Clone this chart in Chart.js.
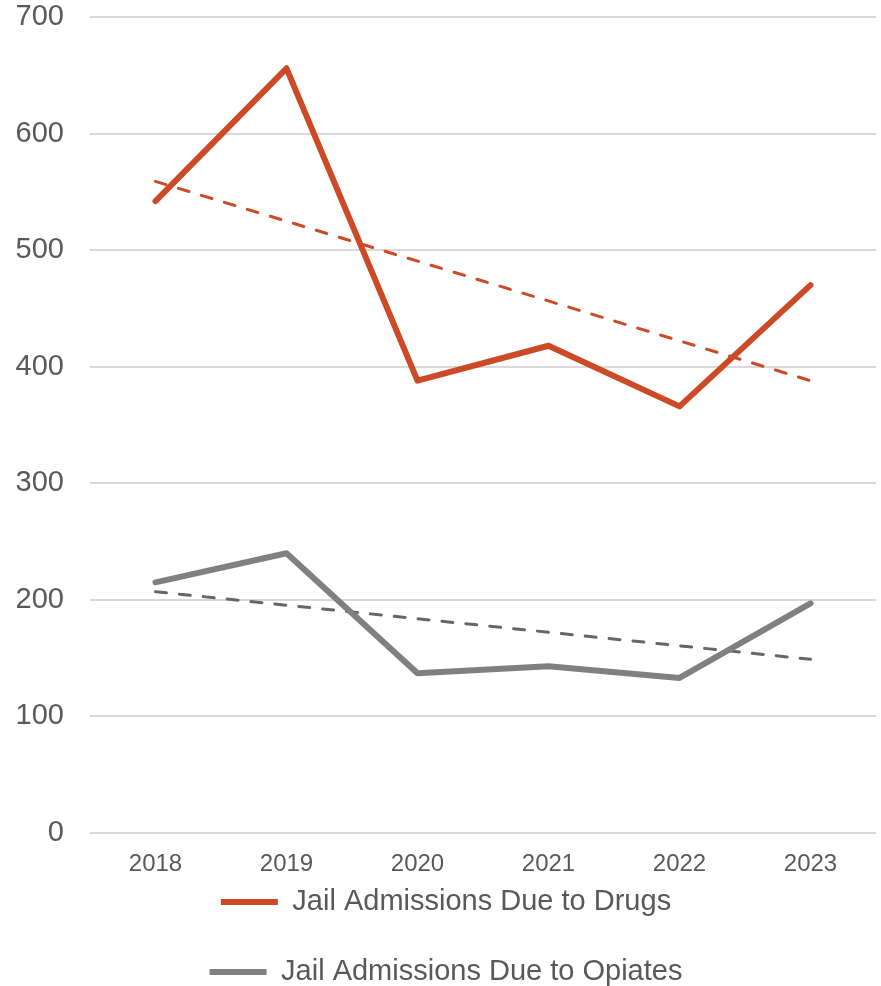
<!DOCTYPE html>
<html lang="en">
<head>
    <meta charset="UTF-8">
    <title>Jail Admissions</title>
    <script src="https://cdn.jsdelivr.net/npm/chart.js"></script>
    <style>
        body { margin: 0; background: #fff; }
        #chart-container { width: 881px; height: 986px; }
    </style>
</head>
<body>
    <div id="chart-container">
        <canvas id="chart"></canvas>
    </div>

    <script>
        // Data
        const years = ["2018", "2019", "2020", "2021", "2022", "2023"];
        const drugs = [542, 656, 388, 418, 366, 470];
        const opiates = [215, 240, 137, 143, 133, 197];
        // Trend lines: only the end points, the line is drawn between them
        const drugsTrend = [559, null, null, null, null, 388];
        const opiatesTrend = [207, null, null, null, null, 149];
        const yTicks = [0, 100, 200, 300, 400, 500, 600, 700];

        const red = "#CD4A27";
        const gray = "#808080";
        const textGray = "#595959";
        const fontFamily = "Liberation Sans, Arial";

        const ctx = document.getElementById("chart").getContext("2d");
        new Chart(ctx, {
            type: "line",
            data: {
                labels: years,
                datasets: [
                    {
                        label: "Jail Admissions Due to Drugs",
                        data: drugs,
                        borderColor: red,
                        backgroundColor: red,
                        borderWidth: 6,
                        pointRadius: 0,
                        borderCapStyle: "round",
                        borderJoinStyle: "round",
                        tension: 0
                    },
                    {
                        label: "Jail Admissions Due to Opiates",
                        data: opiates,
                        borderColor: gray,
                        backgroundColor: gray,
                        borderWidth: 6,
                        pointRadius: 0,
                        borderCapStyle: "round",
                        borderJoinStyle: "round",
                        tension: 0
                    },
                    {
                        label: "trend drugs",
                        data: drugsTrend,
                        borderColor: red,
                        borderWidth: 3,
                        borderDash: [11, 13],
                        borderCapStyle: "round",
                        pointRadius: 0,
                        spanGaps: true
                    },
                    {
                        label: "trend opiates",
                        data: opiatesTrend,
                        borderColor: "#666666",
                        borderWidth: 3,
                        borderDash: [11, 13],
                        borderCapStyle: "round",
                        pointRadius: 0,
                        spanGaps: true
                    }
                ]
            },
            options: {
                responsive: true,
                maintainAspectRatio: false,
                animation: false,
                // negative bottom padding: the second legend row is cut off in the original too
                layout: { padding: { top: 0, right: 5, left: 16, bottom: -10.5 } },
                plugins: {
                    tooltip: { enabled: false },
                    legend: {
                        position: "bottom",
                        // empty title with negative padding pulls the rows up under the year labels
                        title: { display: true, text: "", font: { size: 1 }, padding: { top: -33.5, bottom: 0 } },
                        labels: {
                            filter: (item) => item.datasetIndex < 2,
                            usePointStyle: true,
                            pointStyle: "line",
                            pointStyleWidth: 57,
                            boxHeight: 29,
                            padding: 41,
                            color: textGray,
                            font: { family: fontFamily, size: 29 }
                        }
                    }
                },
                scales: {
                    x: {
                        offset: true,
                        grid: { display: false },
                        border: { display: false },
                        ticks: {
                            color: textGray,
                            font: { family: fontFamily, size: 24 },
                            padding: 9
                        },
                        afterFit: (axis) => { axis.height -= 9; }
                    },
                    y: {
                        min: 0,
                        max: 700,
                        afterBuildTicks: (axis) => { axis.ticks = yTicks.map(v => ({ value: v })); },
                        grid: { color: "#D9D9D9", lineWidth: 2, drawTicks: false },
                        border: { display: false },
                        ticks: {
                            color: textGray,
                            font: { family: fontFamily, size: 29 },
                            padding: 26
                        },
                        afterFit: (axis) => {
                            axis.paddingTop = 17;
                            axis.paddingBottom = 0;
                            axis.width = 74;
                        }
                    }
                }
            }
        });
    </script>
</body>
</html>
